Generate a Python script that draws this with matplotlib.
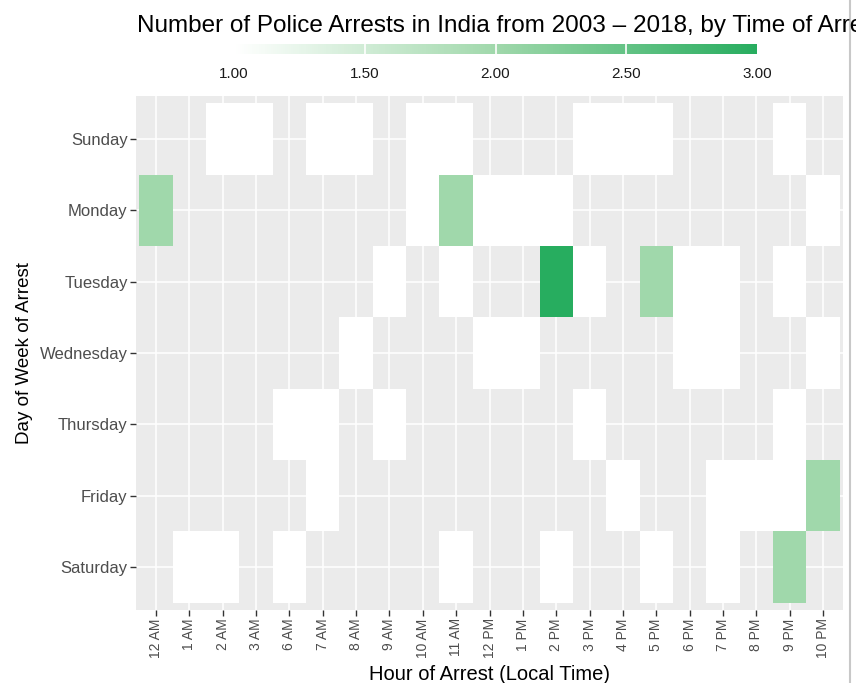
import numpy as np
import matplotlib
matplotlib.use("Agg")
import matplotlib.pyplot as plt
from matplotlib.colors import LinearSegmentedColormap
from matplotlib.lines import Line2D

plt.rcParams['font.family'] = ['Liberation Sans', 'DejaVu Sans']

days = ["Sunday", "Monday", "Tuesday", "Wednesday", "Thursday", "Friday", "Saturday"]
hours = ["12 AM", "1 AM", "2 AM", "3 AM", "6 AM", "7 AM", "8 AM", "9 AM", "10 AM", "11 AM",
         "12 PM", "1 PM", "2 PM", "3 PM", "4 PM", "5 PM", "6 PM", "7 PM", "8 PM", "9 PM", "10 PM"]

# arrest counts per day (0 = no record)
sunday    = [0, 0, 1, 1, 0, 1, 1, 0, 1, 1, 0, 0, 0, 1, 1, 1, 0, 0, 0, 1, 0]
monday    = [2, 0, 0, 0, 0, 0, 0, 0, 1, 2, 1, 1, 1, 0, 0, 0, 0, 0, 0, 0, 1]
tuesday   = [0, 0, 0, 0, 0, 0, 0, 1, 0, 1, 0, 0, 3, 1, 0, 2, 1, 1, 0, 1, 0]
wednesday = [0, 0, 0, 0, 0, 0, 1, 0, 0, 0, 1, 1, 0, 0, 0, 0, 1, 1, 0, 0, 1]
thursday  = [0, 0, 0, 0, 1, 1, 0, 1, 0, 0, 0, 0, 0, 1, 0, 0, 0, 0, 0, 1, 0]
friday    = [0, 0, 0, 0, 0, 1, 0, 0, 0, 0, 0, 0, 0, 0, 1, 0, 0, 1, 1, 1, 2]
saturday  = [0, 1, 1, 0, 1, 0, 0, 0, 0, 1, 0, 0, 1, 0, 0, 1, 0, 1, 0, 2, 0]

counts = np.array([sunday, monday, tuesday, wednesday, thursday, friday, saturday], dtype=float)
data = np.ma.masked_where(counts == 0, counts)

cmap = LinearSegmentedColormap.from_list(
    "grn", [(0.0, "#ffffff"), (0.5, "#a0d8ab"), (1.0, "#27ad5f")])

fig = plt.figure(figsize=(8.56, 6.83), dpi=100)
ax = fig.add_axes([136/856, 1-610/683, (843-136)/856, (610-96)/683])
ax.set_facecolor("#ebebeb")

nx, ny = len(hours), len(days)
xe = np.arange(nx + 1) - 0.5
ye = np.arange(ny + 1) - 0.5
mesh = ax.pcolormesh(xe, ye, data, cmap=cmap, vmin=1, vmax=3, zorder=2)

ax.set_xlim(-0.6, nx - 0.4)
ax.set_ylim(ny - 0.4, -0.6)
ax.set_xticks(np.arange(nx))
ax.set_xticklabels(hours, rotation=90, fontsize=10, color="#4d4d4d")
ax.set_yticks(np.arange(ny))
ax.set_yticklabels(days, fontsize=12, color="#4d4d4d")
ax.tick_params(axis="both", length=4, width=1, color="#333333", pad=2)
ax.grid(True, color="white", linewidth=1.1, zorder=1)
ax.set_axisbelow(True)
for s in ax.spines.values():
    s.set_visible(False)

ax.set_xlabel("Hour of Arrest (Local Time)", fontsize=14.5, labelpad=5)
ax.set_ylabel("Day of Week of Arrest", fontsize=13.5, labelpad=5)

fig.text(137/856, 1-26/683, "Number of Police Arrests in India from 2003 \u2013 2018, by Time of Arrest",
         fontsize=17.5, ha="left", va="center")

cax = fig.add_axes([234/856, 1-54/683, (757-234)/856, 10/683])
cb = fig.colorbar(mesh, cax=cax, orientation="horizontal")
cb.outline.set_visible(False)
cb.set_ticks([1, 1.5, 2, 2.5, 3])
cb.set_ticklabels(["1.00", "1.50", "2.00", "2.50", "3.00"])
cax.tick_params(axis="x", length=0, labelsize=11, labelcolor="#1a1a1a", pad=9)
for v in [1.5, 2.0, 2.5]:
    cax.axvline(v, color="white", linewidth=1.2)

fig.add_artist(Line2D([850/856, 850/856], [0, 1], color="#c8c8c8", linewidth=1.5))

fig.savefig("out.png", dpi=100)
